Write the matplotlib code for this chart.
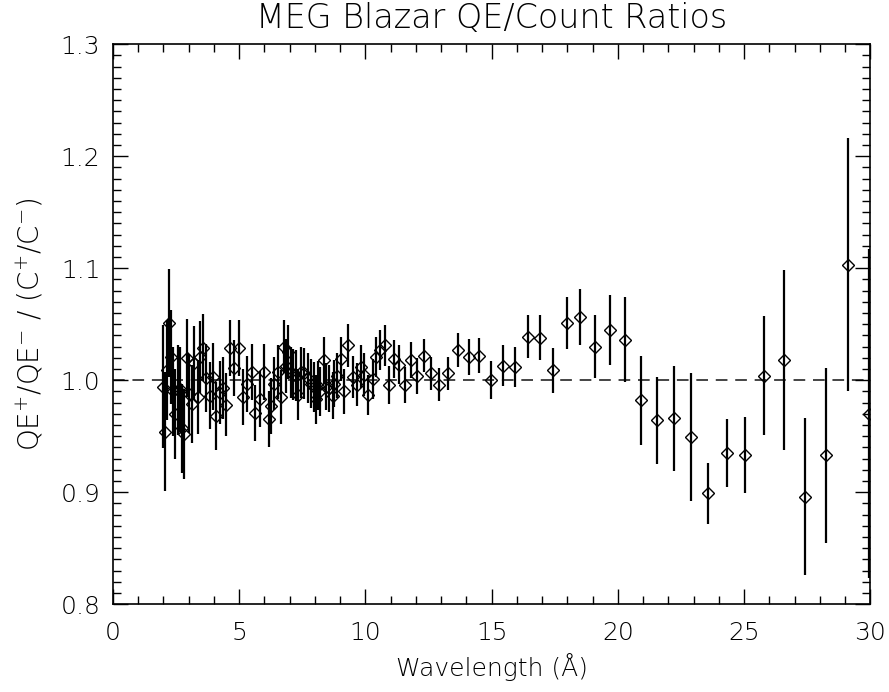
import matplotlib
matplotlib.use("Agg")
import matplotlib.pyplot as plt
from matplotlib.ticker import MultipleLocator

plt.rcParams['font.family'] = ['DejaVu Sans']
plt.rcParams['font.weight'] = 'light'
plt.rcParams['mathtext.default'] = 'regular'

wavelength = [1.98, 2.06, 2.14, 2.22, 2.30, 2.38, 2.46, 2.58, 2.66, 2.73, 2.81, 2.93,
              3.01, 3.13, 3.21, 3.37, 3.45, 3.57, 3.69, 3.84, 3.96, 4.08, 4.24, 4.36,
              4.48, 4.64, 4.80, 4.99, 5.15, 5.31, 5.51, 5.63, 5.83, 5.98, 6.18, 6.26,
              6.38, 6.54, 6.66, 6.78, 6.86, 6.94, 7.06, 7.13, 7.25, 7.33, 7.45, 7.57,
              7.73, 7.85, 7.97, 8.05, 8.13, 8.20, 8.36, 8.44, 8.56, 8.72, 8.76, 8.88,
              9.04, 9.16, 9.31, 9.51, 9.67, 9.83, 9.95, 10.11, 10.31, 10.42, 10.58, 10.78,
              10.94, 11.14, 11.34, 11.57, 11.81, 12.05, 12.33, 12.60, 12.92, 13.28, 13.67,
              14.11, 14.51, 14.98, 15.46, 15.93, 16.45, 16.92, 17.44, 17.99, 18.51, 19.10,
              19.70, 20.29, 20.93, 21.56, 22.24, 22.91, 23.58, 24.34, 25.05, 25.80, 26.60,
              27.43, 28.26, 29.13, 29.96]

ratio = [0.994, 0.954, 1.009, 1.051, 1.021, 0.990, 0.970, 0.991, 0.992, 0.957, 0.952, 1.020,
         0.988, 0.979, 1.015, 0.985, 1.021, 1.029, 1.002, 0.986, 1.003, 0.968, 0.989, 0.993,
         0.978, 1.029, 1.011, 1.029, 0.985, 0.997, 1.007, 0.971, 0.983, 1.007, 0.965, 0.977,
         0.997, 1.007, 0.985, 1.030, 1.013, 1.025, 1.007, 1.005, 1.004, 0.987, 1.007, 1.006,
         1.002, 0.997, 0.994, 0.983, 0.995, 0.990, 1.018, 0.994, 0.993, 0.986, 0.997, 1.004,
         1.019, 0.990, 1.031, 1.003, 0.996, 1.012, 1.005, 0.987, 1.001, 1.021, 1.027, 1.031,
         0.996, 1.019, 1.014, 0.996, 1.018, 1.004, 1.022, 1.006, 0.996, 1.006, 1.027,
         1.021, 1.022, 1.000, 1.013, 1.012, 1.039, 1.038, 1.009, 1.051, 1.056, 1.030,
         1.045, 1.036, 0.982, 0.964, 0.966, 0.949, 0.899, 0.935, 0.933, 1.004, 1.018,
         0.896, 0.933, 1.103, 0.970]

error = [0.055, 0.053, 0.045, 0.048, 0.042, 0.040, 0.040, 0.040, 0.038, 0.040, 0.040, 0.035,
         0.035, 0.035, 0.033, 0.033, 0.032, 0.030, 0.030, 0.030, 0.030, 0.030, 0.028, 0.028,
         0.028, 0.025, 0.025, 0.025, 0.025, 0.025, 0.025, 0.025, 0.025, 0.025, 0.025, 0.025,
         0.024, 0.024, 0.024, 0.024, 0.024, 0.024, 0.023, 0.023, 0.023, 0.023, 0.023, 0.023,
         0.022, 0.022, 0.022, 0.022, 0.022, 0.022, 0.021, 0.021, 0.021, 0.021, 0.021, 0.020,
         0.020, 0.020, 0.019, 0.019, 0.019, 0.019, 0.019, 0.018, 0.018, 0.018, 0.018, 0.018,
         0.017, 0.017, 0.017, 0.016, 0.016, 0.016, 0.015, 0.015, 0.015, 0.015, 0.015,
         0.016, 0.016, 0.017, 0.018, 0.018, 0.019, 0.020, 0.020, 0.023, 0.025, 0.028,
         0.031, 0.038, 0.040, 0.039, 0.047, 0.057, 0.027, 0.030, 0.034, 0.053, 0.080,
         0.070, 0.078, 0.113, 0.147]

x_ticks = [0, 5, 10, 15, 20, 25, 30]
y_ticks = [0.8, 0.9, 1.0, 1.1, 1.2, 1.3]

fig = plt.figure(figsize=(8.89, 6.92), dpi=100)
ax = fig.add_axes([0.127, 0.127, 0.852, 0.809])

ax.axhline(1.0, color='#444444', lw=1.4, ls=(0, (6, 4)), zorder=1)
ax.errorbar(wavelength, ratio, yerr=error, fmt='none', ecolor='black',
            elinewidth=1.6, capsize=0, zorder=2)
ax.plot(wavelength, ratio, ls='none', marker='D', ms=6.0, mfc='none',
        mec='black', mew=1.0, zorder=3, clip_on=True)

ax.set_xlim(0, 30)
ax.set_ylim(0.8, 1.3)
ax.set_xticks(x_ticks)
ax.set_yticks(y_ticks)
ax.set_xticklabels([str(v) for v in x_ticks])
ax.set_yticklabels([f"{v:.1f}" for v in y_ticks])
ax.xaxis.set_minor_locator(MultipleLocator(1))
ax.yaxis.set_minor_locator(MultipleLocator(0.01))
ax.tick_params(which='both', direction='in', top=True, right=True, width=1.0)
ax.tick_params(which='major', length=11, labelsize=18)
ax.tick_params(axis='x', which='major', pad=12)
ax.tick_params(axis='y', which='major', pad=9)
ax.tick_params(which='minor', length=5.5)
for s in ax.spines.values():
    s.set_linewidth(1.2)

ax.set_title('MEG Blazar QE/Count Ratios', fontsize=24, pad=12, fontweight='light')
ax.set_xlabel('Wavelength (Å)', fontsize=18, labelpad=6, fontweight='light')
ax.set_ylabel('QE$^{+}$/QE$^{-}$ / (C$^{+}$/C$^{-}$)', fontsize=20, labelpad=11,
              fontweight='light')

fig.savefig('out.png', dpi=100, facecolor='white')
